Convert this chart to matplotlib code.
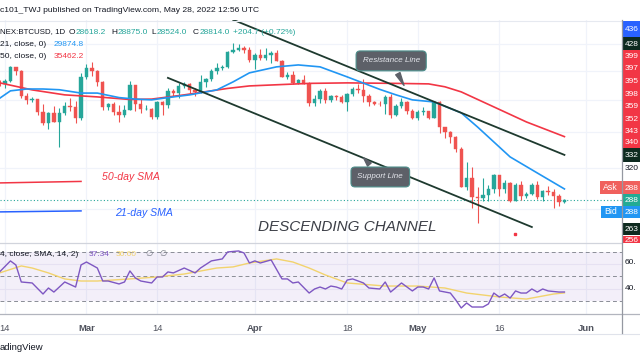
import matplotlib
matplotlib.use('Agg')
import matplotlib.pyplot as plt
import matplotlib.dates as mdates
from matplotlib.patches import Rectangle
from matplotlib.ticker import NullLocator
import numpy as np
import pandas as pd

plt.rcParams['font.family'] = ['Liberation Sans', 'DejaVu Sans']

W, H = 640, 360

# daily candles, Bitfinex BTCUSD 1D
dates = pd.date_range('2022-02-13', '2022-05-28', freq='D')
opens = [42200, 42070, 42590, 44580, 43960, 40540, 40000, 40120, 38430, 37020, 38260, 37260, 38330, 39210, 39110, 37700,
         43180, 44420, 43920, 42450, 39140, 39400, 38420, 38060, 38740, 41980, 39440, 38790, 38810, 37780, 39670, 39340,
         41140, 40950, 41800, 42190, 41250, 41080, 42360, 42890, 43960, 44350, 44500, 46820, 47130, 47460, 47060,
         45540, 46280, 45810, 46410, 46580, 45500, 43170, 43440, 42250, 42750, 42160, 39530, 40070, 41150, 39940,
         40550, 40380, 39680, 40800, 41500, 41370, 40480, 39710, 39470, 39450, 40430, 38110, 39240, 39740, 38600,
         37640, 38470, 38530, 37740, 39690, 36550, 36010, 35470, 34060, 30080, 31010, 29080, 28960, 29280, 29860,
         31300, 29850, 30430, 28690, 30290, 29180, 29430, 30300, 29100, 29650, 29540, 29200, 28618]
highs = [42760, 42880, 44720, 44550, 44140, 40920, 40440, 40140, 39450, 38420, 39200, 38970, 39700, 40280, 39860, 43740,
         44950, 45350, 44080, 42500, 39600, 39660, 39390, 39310, 42500, 42020, 40150, 39310, 39000, 39840, 39900,
         41640, 41460, 42300, 42370, 42280, 41520, 43330, 42990, 44200, 45090, 44800, 46890, 48190, 48100, 47700, 47570,
         46700, 47180, 47410, 46890, 47100, 45510, 43880, 43950, 42780, 43390, 42410, 40660, 41500, 41540, 40690,
         40690, 40590, 40960, 41720, 42160, 42880, 40800, 39900, 39900, 40580, 40730, 39400, 40290, 39900, 38780,
         38650, 39140, 38630, 39900, 39800, 36620, 36130, 35500, 34230, 32600, 32150, 30030, 30990, 30260, 31410,
         31300, 30760, 30600, 30480, 30700, 29600, 30420, 30630, 29780, 30150, 29830, 29350, 28875]
lows = [41870, 41570, 42460, 43330, 40280, 39480, 39680, 38050, 36850, 36380, 37150, 34320, 38010, 38570, 37030, 37460,
        42830, 43320, 41860, 38650, 38650, 38120, 37200, 37870, 38680, 38600, 38260, 38700, 37600, 37600, 38120,
        38920, 40560, 40220, 41530, 40970, 40560, 40900, 41780, 42560, 43600, 44070, 44420, 46680, 46990, 46600, 45250,
        44250, 45650, 45560, 45160, 45450, 43140, 42770, 42110, 42150, 42110, 39220, 39260, 39580, 39570, 39770,
        40000, 39560, 38540, 40560, 40870, 39750, 39200, 39300, 39180, 38250, 37740, 37900, 38900, 38210, 37600,
        37400, 38070, 37520, 37680, 35860, 35300, 34780, 33700, 30040, 29760, 28100, 26700, 28750, 28730, 29490,
        29150, 29520, 28670, 28680, 28790, 29010, 29250, 28920, 28710, 29330, 28050, 28260, 28524]
closes = [42070, 42590, 44580, 43960, 40540, 40000, 40120, 38430, 37020, 38260, 37260, 38330, 39210, 39110, 37700, 43180,
          44420, 43920, 42450, 39140, 39400, 38420, 38060, 38740, 41980, 39440, 38790, 38810, 37780, 39670, 39340,
          41140, 40950, 41800, 42190, 41250, 41080, 42360, 42890, 43960, 44350, 44500, 46820, 47130, 47460, 47060, 45540,
          46280, 45810, 46410, 46580, 45500, 43170, 43440, 42250, 42750, 42160, 39530, 40070, 41150, 39940, 40550,
          40380, 39680, 40800, 41500, 41370, 40480, 39710, 39470, 39450, 40430, 38110, 39240, 39740, 38600, 37640,
          38470, 38530, 37740, 39690, 36550, 36010, 35470, 34060, 30080, 31010, 29080, 28960, 29280, 29860, 31300,
          29850, 30430, 28690, 30290, 29180, 29430, 30300, 29100, 29650, 29540, 29200, 28620, 28814]
last_price = 28814

# moving averages
sma21_dates = ['2022-02-13', '2022-02-15', '2022-02-18', '2022-02-21', '2022-02-24', '2022-02-28', '2022-03-03',
               '2022-03-07', '2022-03-10', '2022-03-13', '2022-03-16', '2022-03-20', '2022-03-25', '2022-03-28',
               '2022-03-31', '2022-04-05', '2022-04-09', '2022-04-13', '2022-04-18', '2022-04-24', '2022-04-27',
               '2022-04-30', '2022-05-04', '2022-05-09', '2022-05-12', '2022-05-18', '2022-05-23', '2022-05-28']
sma21_vals = [40200, 41200, 41450, 41450, 41350, 40900, 40900, 40300, 40100, 40000, 40300, 40660, 41330, 42430,
              43700, 44570, 44850, 44570, 43130, 41400, 40660, 40000, 39730, 38330, 36600, 33180, 31480, 29875]
sma50_dates = ['2022-02-13', '2022-02-19', '2022-02-25', '2022-03-03', '2022-03-09', '2022-03-13', '2022-03-19',
               '2022-03-27', '2022-03-31', '2022-04-11', '2022-04-18', '2022-04-27', '2022-05-03', '2022-05-06',
               '2022-05-09', '2022-05-15', '2022-05-21', '2022-05-28']
sma50_vals = [42300, 41330, 40660, 40390, 40050, 40100, 40660, 41530, 41870, 42220, 42290, 42220, 42150, 41750,
              41060, 39090, 37210, 35462]

# RSI(14) and its SMA(14)
rsi_dates = ['2022-02-13', '2022-02-15', '2022-02-16', '2022-02-17', '2022-02-19', '2022-02-21', '2022-02-22',
             '2022-02-23', '2022-02-25', '2022-02-27', '2022-02-28', '2022-03-01', '2022-03-03', '2022-03-04',
             '2022-03-05', '2022-03-07', '2022-03-08', '2022-03-09', '2022-03-10', '2022-03-11', '2022-03-13',
             '2022-03-14', '2022-03-15', '2022-03-16', '2022-03-17', '2022-03-19', '2022-03-21', '2022-03-22',
             '2022-03-24', '2022-03-26', '2022-03-27', '2022-03-29', '2022-03-30', '2022-03-31', '2022-04-01',
             '2022-04-02', '2022-04-04', '2022-04-06', '2022-04-07', '2022-04-08', '2022-04-09', '2022-04-11',
             '2022-04-12', '2022-04-13', '2022-04-14', '2022-04-15', '2022-04-16', '2022-04-17', '2022-04-18',
             '2022-04-19', '2022-04-21', '2022-04-22', '2022-04-24', '2022-04-25', '2022-04-26', '2022-04-28',
             '2022-04-30', '2022-05-01', '2022-05-02', '2022-05-03', '2022-05-04', '2022-05-05', '2022-05-07',
             '2022-05-08', '2022-05-09', '2022-05-10', '2022-05-11', '2022-05-13', '2022-05-14', '2022-05-15',
             '2022-05-16', '2022-05-17', '2022-05-18', '2022-05-19', '2022-05-20', '2022-05-21', '2022-05-22',
             '2022-05-23', '2022-05-24', '2022-05-25', '2022-05-27', '2022-05-28']
rsi_vals = [53.7, 62.7, 59.4, 45.5, 44.7, 35.7, 40.6, 37.3, 45.5, 41.4, 59.4, 61.8, 56.9, 46.3,
            46.3, 43.9, 45.5, 54.5, 48.8, 46.3, 44.7, 49.6, 49.6, 53.7, 52.9, 56.9, 52.9, 56.9,
            62.7, 64.3, 70.0, 70.8, 69.2, 61.0, 62.7, 61.0, 63.5, 48.0, 48.0, 44.7, 45.5, 36.5,
            39.8, 41.4, 39.8, 42.2, 41.4, 39.8, 47.1, 48.0, 44.7, 40.6, 39.8, 45.5, 37.3, 44.7,
            38.2, 41.4, 41.4, 39.8, 48.8, 38.2, 36.5, 30.8, 24.3, 28.4, 25.1, 25.1, 27.6, 36.5,
            33.3, 35.7, 32.4, 38.2, 36.5, 36.5, 39.8, 37.3, 39.8, 38.2, 37.3, 37.34]
rsi_ma_dates = ['2022-02-13', '2022-02-17', '2022-02-19', '2022-02-22', '2022-02-25', '2022-02-28', '2022-03-03',
                '2022-03-09', '2022-03-14', '2022-03-19', '2022-03-25', '2022-03-28', '2022-03-31', '2022-04-05',
                '2022-04-08', '2022-04-11', '2022-04-14', '2022-04-18', '2022-04-25', '2022-05-01', '2022-05-06',
                '2022-05-10', '2022-05-16', '2022-05-21', '2022-05-26', '2022-05-28']
rsi_ma_vals = [52.9, 58.6, 56.9, 52.9, 48.0, 46.3, 46.3, 48.0, 49.6, 52.0, 56.9, 57.8, 61.0, 64.3,
               61.8, 56.9, 51.2, 44.7, 42.2, 42.2, 40.6, 36.5, 33.3, 31.6, 35.7, 36.6]

# hand drawn trend lines (start, end)
resistance = (('2022-03-28', 52000), ('2022-05-28', 33400))
support = (('2022-03-16', 42990), ('2022-05-22', 26370))

tick_dates = ['2022-02-14', '2022-03-01', '2022-03-14', '2022-04-01', '2022-04-18', '2022-05-01', '2022-05-16', '2022-06-01']
tick_labels = ['14', 'Mar', '14', 'Apr', '18', 'May', '16', 'Jun']
price_grid = [28000, 32000, 36000, 40000, 44000, 48000]

UP, DOWN = '#26a69a', '#ef5350'
TEXT = '#131722'
GRID = '#f0f3fa'
FS = 6.0


def dn(s):
    return mdates.date2num(pd.Timestamp(s))


base = dn('2022-02-14')

fig = plt.figure(figsize=(6.4, 3.6), dpi=100)
fig.patch.set_facecolor('white')

# main price pane: x 0..622, y 20..243 px
ax = fig.add_axes([0, 1 - 243 / H, 622 / W, 223 / H])
ar = fig.add_axes([0, 1 - 314 / H, 622 / W, 71 / H])

for a in (ax, ar):
    a.set_xlim(base - 0.92, base + 113.6)
    for s in a.spines.values():
        s.set_visible(False)
    a.tick_params(left=False, right=False, labelleft=False, top=False)
    for t in tick_dates:
        a.axvline(dn(t), color=GRID, lw=0.9, zorder=0)

ax.set_yscale('log')
ax.set_ylim(25025, 51966)
ax.yaxis.set_minor_locator(NullLocator())
ax.set_yticks([])
ax.tick_params(bottom=False, labelbottom=False)
for p in price_grid:
    ax.axhline(p, color=GRID, lw=0.9, zorder=0)

x = mdates.date2num(dates)
o, h, l, c = map(np.array, (opens, highs, lows, closes))
cols = np.where(c >= o, UP, DOWN)
ax.vlines(x, l, h, colors=cols, lw=0.8, zorder=3)
ax.bar(x, np.abs(c - o), bottom=np.minimum(o, c), width=0.62, color=cols,
       edgecolor=cols, linewidth=0.3, zorder=4)

ax.plot(mdates.date2num(pd.to_datetime(sma50_dates)), sma50_vals, color='#f23645', lw=1.2, zorder=5)
ax.plot(mdates.date2num(pd.to_datetime(sma21_dates)), sma21_vals, color='#2196f3', lw=1.2, zorder=5)

ax.axhline(last_price, color=UP, ls=(0, (1, 2)), lw=0.8, zorder=2)

for (d0, p0), (d1, p1) in (resistance, support):
    ax.plot([dn(d0), dn(d1)], [p0, p1], color='#1e3a2f', lw=1.3, zorder=6)

# SMA key lines and labels
ax.plot([base - 1, base + 14], [30470, 30620], color='#f23645', lw=1.1, zorder=6)
ax.plot([base - 1, base + 14], [27710, 27800], color='#2962ff', lw=1.1, zorder=6)
ax.text(base + 17.9, 31070, '50-day SMA', color='#f23645', fontsize=7.6, style='italic', va='center', zorder=7)
ax.text(base + 20.3, 27610, '21-day SMA', color='#2962ff', fontsize=7.6, style='italic', va='center', zorder=7)
ax.text(base + 46.6, 26370, 'DESCENDING CHANNEL', color='#3c3f47', fontsize=11, style='italic',
        va='center', zorder=7)
ax.plot([base + 93.9], [25800], marker='s', ms=1.5, color='#f23645', zorder=7)

bubble = dict(boxstyle='round,pad=0.8,rounding_size=0.5', fc='#5d6068', ec='#4d8f8b', lw=0.8)
ax.annotate('Resistance Line', xy=(base + 73.7, 41600), xytext=(base + 71.1, 45450),
            ha='center', va='center', fontsize=5.8, style='italic', color='#e6e8ee', bbox=bubble, zorder=8,
            arrowprops=dict(arrowstyle='wedge,tail_width=0.6', fc='#5d6068', ec='#5d6068'))
ax.annotate('Support Line', xy=(base + 65.7, 33290), xytext=(base + 69.1, 31070),
            ha='center', va='center', fontsize=5.8, style='italic', color='#e6e8ee', bbox=bubble, zorder=8,
            arrowprops=dict(arrowstyle='wedge,tail_width=0.6', fc='#5d6068', ec='#5d6068'))

# RSI pane
ar.set_ylim(19.4, 77.3)
ar.set_yticks([])
ar.axhspan(30, 70, color='#7e57c2', alpha=0.09, lw=0, zorder=0)
for v in (60, 40):
    ar.axhline(v, color='#e6e1f2', lw=0.8, zorder=1)
for v in (70, 50, 30):
    ar.axhline(v, color='#8a8d96', ls=(0, (4, 3)), lw=0.7, zorder=1)
ar.plot(mdates.date2num(pd.to_datetime(rsi_ma_dates)), rsi_ma_vals, color='#f2d36d', lw=1.0, zorder=3)
ar.plot(mdates.date2num(pd.to_datetime(rsi_dates)), rsi_vals, color='#7e57c2', lw=1.0, zorder=4)
ar.set_xticks([dn(t) for t in tick_dates])
ar.set_xticklabels(tick_labels, fontsize=6.8, color='#50535e')
for lab in ar.get_xticklabels():
    if lab.get_text().isalpha():
        lab.set_fontweight('bold')
ar.tick_params(bottom=False, pad=3.5)

# frame, price scale, header texts drawn in pixel space
ov = fig.add_axes([0, 0, 1, 1], zorder=10)
ov.set_xlim(0, W)
ov.set_ylim(H, 0)
ov.axis('off')
ov.patch.set_alpha(0)

ov.plot([0, 622], [20.5, 20.5], color='#e6e9f0', lw=0.8)
ov.plot([0, 622], [243, 243], color='#d1d4dc', lw=0.9)
ov.plot([0, 640], [314, 314], color='#b2b5be', lw=0.9)
ov.plot([0, 640], [333.5, 333.5], color='#e0e3eb', lw=0.8)
ov.plot([622, 622], [20, 333], color='#9598a1', lw=0.9)

tags = [
    (21, 37, '#2962ff', '436'),
    (37, 50, '#0d2a1f', '428'),
    (50, 62, '#f23645', '399'),
    (62, 75, '#f23645', '397'),
    (75, 87, '#f23645', '395'),
    (87, 100, '#f23645', '398'),
    (100, 113, '#f23645', '359'),
    (113, 125, '#f23645', '352'),
    (125, 137, '#f23645', '343'),
    (137, 148, '#f23645', '340'),
    (148, 162, '#0d2a1f', '332'),
    (181, 194, '#f0605d', '288'),
    (194, 206, '#22ab94', '288'),
    (206, 218, '#2196f3', '288'),
    (223, 235, '#0d2a1f', '263'),
    (236, 243, '#f23645', '256'),
]
for y0, y1, fc, txt in tags:
    ov.add_patch(Rectangle((622.5, y0), 20, y1 - y0, fc=fc, ec='none'))
    if y1 - y0 > 10:
        ov.text(624.5, (y0 + y1) / 2 + 0.5, txt, color='white', fontsize=FS, va='center')
    else:
        ov.text(624.5, y0 + 4, txt, color='white', fontsize=FS, va='center')
ov.text(624.5, 168, '320', color=TEXT, fontsize=FS, va='center')
ov.text(625, 263, '60.', color=TEXT, fontsize=FS, va='center')
ov.text(625, 289, '40.', color=TEXT, fontsize=FS, va='center')

ov.add_patch(Rectangle((600, 181), 22, 13, fc='#f0605d', ec='none'))
ov.text(603, 188, 'Ask', color='white', fontsize=6.3, va='center')
ov.add_patch(Rectangle((601, 206), 21, 12, fc='#2196f3', ec='none'))
ov.text(604, 212, 'Bid', color='white', fontsize=6.3, va='center')

ov.text(0, 10, 'c101_TWJ published on TradingView.com, May 28, 2022 12:56 UTC', color=TEXT, fontsize=6.1,
        va='center')
ov.text(0, 348, 'adingView', color=TEXT, fontsize=6.8, va='center')

# legend rows
ov.text(0, 32, 'NEX:BTCUSD, 1D', color=TEXT, fontsize=5.7, va='center')
for xx, txt, cc in [(69, 'O', TEXT), (76, '28618.2', UP), (111, 'H', TEXT), (118, '28875.0', UP),
                    (151, 'L', TEXT), (157, '28524.0', UP), (193, 'C', TEXT), (200, '28814.0', UP),
                    (233, '+204.7 (+0.72%)', UP)]:
    ov.text(xx, 32, txt, color=cc, fontsize=FS, va='center')
ov.text(0, 44, '21, close, 0)', color=TEXT, fontsize=FS, va='center')
ov.text(54, 44, '29874.8', color='#2196f3', fontsize=FS, va='center')
ov.text(0, 57, '50, close, 0)', color=TEXT, fontsize=FS, va='center')
ov.text(54, 57, '35462.2', color='#f23645', fontsize=FS, va='center')
ov.text(0, 255, '4, close, SMA, 14, 2)', color=TEXT, fontsize=FS, va='center')
ov.text(89, 255, '37.34', color='#7e57c2', fontsize=FS, va='center')
ov.text(116, 255, '36.60', color='#f2d36d', fontsize=FS, va='center')
ov.text(145, 255, '\u2205', color='#787b86', fontsize=FS, va='center')
ov.text(159, 255, '\u2205', color='#787b86', fontsize=FS, va='center')

fig.savefig('out.png', dpi=100, facecolor='white')
